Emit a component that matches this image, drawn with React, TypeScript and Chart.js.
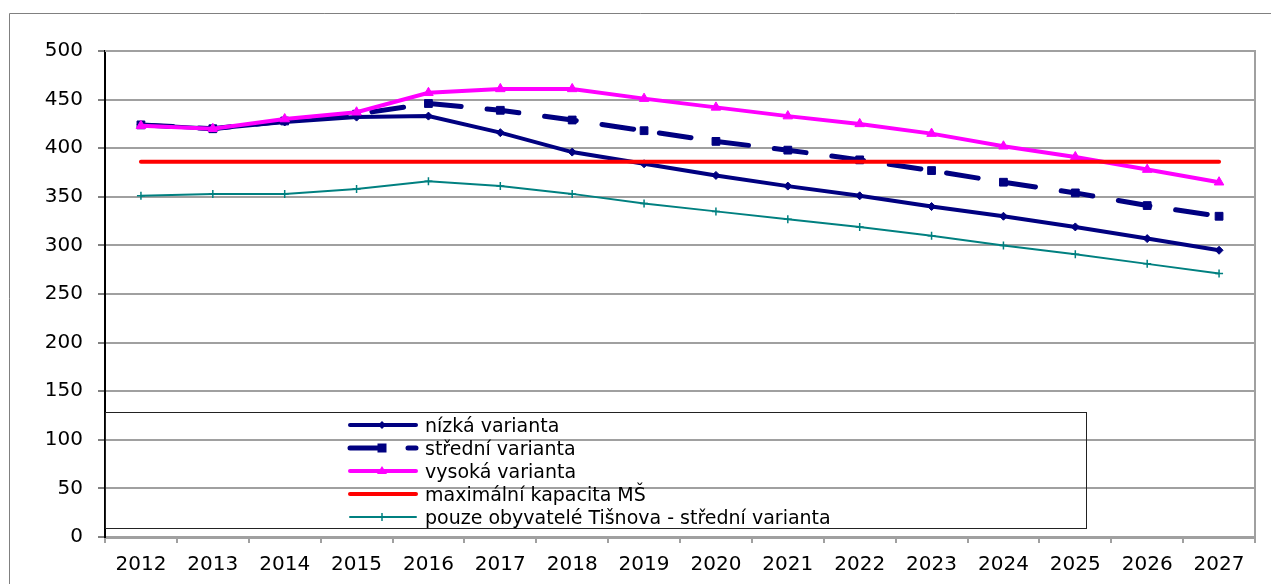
import React, { useEffect, useRef } from "react";
import { Chart, registerables } from "chart.js";

Chart.register(...registerables);

const years = ["2012", "2013", "2014", "2015", "2016", "2017", "2018", "2019", "2020", "2021", "2022", "2023", "2024", "2025", "2026", "2027"];
const nizka = [424, 420, 427, 432, 433, 416, 396, 384, 372, 361, 351, 340, 330, 319, 307, 295];
const stredni = [424, 420, 428, 435, 446, 439, 429, 418, 407, 398, 388, 377, 365, 354, 341, 330];
const vysoka = [423, 420, 430, 437, 457, 461, 461, 451, 442, 433, 425, 415, 402, 391, 378, 365];
const kapacita = [386, 386, 386, 386, 386, 386, 386, 386, 386, 386, 386, 386, 386, 386, 386, 386];
const pouze = [351, 353, 353, 358, 366, 361, 353, 343, 335, 327, 319, 310, 300, 291, 281, 271];
const seriesLabels = [
  "nízká varianta",
  "střední varianta",
  "vysoká varianta",
  "maximální kapacita MŠ",
  "pouze obyvatelé Tišnova - střední varianta",
];

const NAVY = "#000080";
const MAGENTA = "#FF00FF";
const RED = "#FF0000";
const TEAL = "#008080";
const GRID = "#a0a0a0";
const FONT = '"DejaVu Sans", Verdana, sans-serif';

const framePlugin = {
  id: "frame",
  beforeDraw(chart: any) {
    const ctx = chart.ctx;
    ctx.save();
    ctx.fillStyle = "#fff";
    ctx.fillRect(0, 0, chart.width, chart.height);
    ctx.strokeStyle = "#808080";
    ctx.lineWidth = 1;
    ctx.beginPath();
    ctx.moveTo(9.5, chart.height);
    ctx.lineTo(9.5, 13.5);
    ctx.lineTo(chart.width, 13.5);
    ctx.stroke();
    ctx.restore();
  },
  beforeDatasetsDraw(chart: any) {
    const { ctx, chartArea } = chart;
    ctx.save();
    ctx.strokeStyle = GRID;
    ctx.lineWidth = 2;
    ctx.beginPath();
    ctx.moveTo(chartArea.left, chartArea.top);
    ctx.lineTo(chartArea.right, chartArea.top);
    ctx.lineTo(chartArea.right, chartArea.bottom);
    ctx.stroke();
    ctx.restore();
  },
};

function drawMarker(ctx: CanvasRenderingContext2D, style: string, x: number, y: number, color: string) {
  ctx.save();
  ctx.fillStyle = color;
  ctx.strokeStyle = color;
  ctx.lineWidth = 1;
  ctx.setLineDash([]);
  ctx.beginPath();
  if (style === "diamond") {
    const r = 4;
    ctx.moveTo(x, y - r);
    ctx.lineTo(x + r, y);
    ctx.lineTo(x, y + r);
    ctx.lineTo(x - r, y);
    ctx.closePath();
    ctx.fill();
  } else if (style === "square") {
    const s = 4.5;
    ctx.rect(x - s, y - s, 2 * s, 2 * s);
    ctx.fill();
  } else if (style === "triangle") {
    const r = 5;
    ctx.moveTo(x, y - r);
    ctx.lineTo(x + r, y + r * 0.6);
    ctx.lineTo(x - r, y + r * 0.6);
    ctx.closePath();
    ctx.fill();
  } else if (style === "cross") {
    ctx.lineWidth = 1.5;
    ctx.moveTo(x, y - 4);
    ctx.lineTo(x, y + 4);
    ctx.stroke();
  }
  ctx.restore();
}

const legendPlugin = {
  id: "customLegend",
  afterDatasetsDraw(chart: any) {
    const ctx = chart.ctx as CanvasRenderingContext2D;
    ctx.save();
    ctx.strokeStyle = "#222";
    ctx.lineWidth = 1;
    ctx.strokeRect(105.5, 412.5, 981, 116);
    const items = [
      { color: NAVY, width: 4, dash: [] as number[], marker: "diamond" },
      { color: NAVY, width: 5, dash: [32, 26], marker: "square" },
      { color: MAGENTA, width: 4, dash: [] as number[], marker: "triangle" },
      { color: RED, width: 4, dash: [] as number[], marker: "" },
      { color: TEAL, width: 2, dash: [] as number[], marker: "cross" },
    ];
    ctx.font = "19px " + FONT;
    ctx.textBaseline = "alphabetic";
    ctx.textAlign = "left";
    items.forEach((it, i) => {
      const base = 432 + i * 23;
      const ly = base - 7;
      ctx.save();
      ctx.strokeStyle = it.color;
      ctx.lineWidth = it.width;
      ctx.lineCap = "round";
      ctx.setLineDash(it.dash);
      ctx.beginPath();
      ctx.moveTo(350, ly);
      ctx.lineTo(416, ly);
      ctx.stroke();
      ctx.restore();
      if (it.marker) drawMarker(ctx, it.marker, 382, ly, it.color);
      ctx.fillStyle = "#000";
      ctx.fillText(seriesLabels[i], 425, base);
    });
    ctx.restore();
  },
};

export default function App() {
  const ref = useRef<HTMLCanvasElement | null>(null);
  useEffect(() => {
    if (!ref.current) return;
    const chart = new Chart(ref.current, {
      type: "line",
      data: {
        labels: years,
        datasets: [
          {
            label: seriesLabels[0],
            data: nizka,
            borderColor: NAVY,
            backgroundColor: NAVY,
            borderWidth: 4,
            pointStyle: "rectRot",
            pointRadius: 4,
            pointBorderWidth: 1,
            pointBackgroundColor: NAVY,
            pointBorderColor: NAVY,
            tension: 0,
            order: 5,
          },
          {
            label: seriesLabels[1],
            data: stredni,
            borderColor: NAVY,
            backgroundColor: NAVY,
            borderWidth: 5,
            borderDash: [32, 26],
            borderCapStyle: "round",
            pointStyle: "rect",
            pointRadius: 5.5,
            pointBorderWidth: 1,
            pointBackgroundColor: NAVY,
            pointBorderColor: NAVY,
            tension: 0,
            order: 4,
          },
          {
            label: seriesLabels[2],
            data: vysoka,
            borderColor: MAGENTA,
            backgroundColor: MAGENTA,
            borderWidth: 4,
            pointStyle: "triangle",
            pointRadius: 5.5,
            pointBorderWidth: 1,
            pointBackgroundColor: MAGENTA,
            pointBorderColor: MAGENTA,
            tension: 0,
            order: 3,
          },
          {
            label: seriesLabels[3],
            data: kapacita,
            borderColor: RED,
            backgroundColor: RED,
            borderWidth: 4,
            borderCapStyle: "round",
            pointRadius: 0,
            tension: 0,
            order: 2,
          },
          {
            label: seriesLabels[4],
            data: pouze,
            borderColor: TEAL,
            backgroundColor: TEAL,
            borderWidth: 2,
            pointStyle: "cross",
            pointRadius: 4,
            pointBorderWidth: 1.5,
            pointBorderColor: TEAL,
            pointBackgroundColor: TEAL,
            tension: 0,
            order: 1,
          },
        ],
      },
      options: {
        responsive: false,
        animation: false,
        devicePixelRatio: 1,
        layout: { padding: { left: 0, top: 51, right: 16, bottom: 0 } },
        plugins: {
          legend: { display: false },
          title: { display: false },
          tooltip: { enabled: false },
        },
        scales: {
          x: {
            type: "category",
            offset: true,
            grid: {
              offset: true,
              drawOnChartArea: false,
              drawTicks: true,
              tickLength: 6,
              color: GRID,
              lineWidth: 2,
            },
            border: { color: GRID, width: 3 },
            ticks: {
              font: { family: FONT, size: 20 },
              color: "#000",
              padding: 10,
              maxRotation: 0,
              autoSkip: false,
            },
            afterFit: (scale: any) => {
              scale.height = 47;
            },
          },
          y: {
            min: 0,
            max: 500,
            ticks: {
              stepSize: 50,
              font: { family: FONT, size: 20 },
              color: "#000",
              padding: 15,
            },
            grid: {
              color: GRID,
              lineWidth: 2,
              tickColor: "#000",
              tickWidth: 1,
              tickLength: 7,
            },
            border: { color: "#000", width: 2 },
            afterFit: (scale: any) => {
              scale.width = 105;
            },
          },
        },
      },
      plugins: [framePlugin, legendPlugin],
    } as any);
    return () => chart.destroy();
  }, []);
  return (
    <div style={{ position: "absolute", left: 0, top: 0, width: 1271, height: 584 }}>
      <canvas ref={ref} width={1271} height={584} style={{ display: "block" }} />
    </div>
  );
}
